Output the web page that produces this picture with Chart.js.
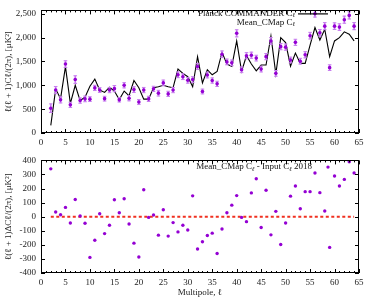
<!DOCTYPE html>
<html>
<head>
<meta charset="utf-8">
<script src="https://cdn.jsdelivr.net/npm/chart.js@4/dist/chart.umd.min.js"></script>
<style>
  html, body { margin: 0; padding: 0; background: #fff; }
  #wrap { position: relative; width: 375px; height: 300px; }
  .panel { position: absolute; left: 0; width: 375px; height: 150px; }
</style>
</head>
<body>
<div id="wrap">
  <div class="panel" style="top:0"><canvas id="clPlot"></canvas></div>
  <div class="panel" style="top:150px"><canvas id="diffPlot"></canvas></div>
</div>
<script>
const ells = [2, 3, 4, 5, 6, 7, 8, 9, 10, 11, 12, 13, 14, 15, 16, 17, 18, 19, 20, 21,
  22, 23, 24, 25, 26, 27, 28, 29, 30, 31, 32, 33, 34, 35, 36, 37, 38, 39, 40, 41,
  42, 43, 44, 45, 46, 47, 48, 49, 50, 51, 52, 53, 54, 55, 56, 57, 58, 59, 60, 61,
  62, 63, 64];

// Planck COMMANDER D_l
const planckCl = [160, 920, 720, 1390, 620, 1000, 680, 750, 980, 1130,
  900, 850, 960, 880, 700, 880, 780, 1100, 950, 710,
  710, 950, 970, 1000, 970, 950, 1340, 1250, 1180, 970,
  1600, 1050, 1325, 1220, 1290, 1690, 1445, 1395, 1930, 1290,
  1620, 1445, 1305, 1425, 1425, 2035, 1235, 2000, 1895, 1400,
  1675, 1460, 1460, 1840, 2210, 1950, 2175, 1600, 1930, 2000,
  2120, 2070, 1930];

// Mean CMap D_l and its error
const meanCl = [520, 900, 695, 1445, 590, 1120, 680, 715, 710, 945,
  900, 720, 900, 930, 695, 1000, 730, 910, 650, 900,
  715, 925, 835, 1050, 820, 900, 1220, 1180, 1105, 1120,
  1395, 870, 1215, 1100, 1030, 1650, 1490, 1470, 2090, 1325,
  1620, 1630, 1570, 1340, 1600, 1930, 1250, 1810, 1800, 1530,
  1900, 1505, 1640, 2040, 2500, 2100, 2240, 1370, 2240, 2220,
  2375, 2465, 2240];
const meanErr = [90, 75, 65, 70, 55, 80, 55, 60, 50, 55,
  50, 50, 55, 65, 45, 55, 55, 60, 50, 55,
  55, 55, 60, 60, 55, 55, 60, 60, 60, 60,
  65, 50, 60, 55, 55, 70, 60, 60, 75, 60,
  65, 65, 60, 60, 65, 70, 60, 65, 65, 60,
  65, 60, 65, 70, 70, 70, 75, 60, 70, 70,
  75, 75, 75];

// Mean CMap - input 2018
const diffCl = [340, 33, 14, 66, -45, 122, 5, -47, -289, -167,
  21, -120, -61, 120, 28, 127, -52, -188, -286, 192,
  -5, 12, -131, 49, -138, -42, -108, -61, -94, 148,
  -230, -178, -134, -117, -261, -87, 28, 82, 150, -5,
  -35, 169, 270, -77, 188, -129, 38, -197, -45, 146,
  218, 56, 178, 178, 310, 171, 40, -218, 289, 218,
  265, 390, 310];
const refLevel = 0;

const clTicks = [0, 500, 1000, 1500, 2000, 2500];
const diffTicks = [-400, -300, -200, -100, 0, 100, 200, 300, 400];
const xTicks = [0, 5, 10, 15, 20, 25, 30, 35, 40, 45, 50, 55, 60, 65];

const SERIF = "'Liberation Serif', 'DejaVu Serif', serif";
const PURPLE = '#9400d3';
const ERRCOL = '#c77dee';

Chart.defaults.font.family = SERIF;
Chart.defaults.font.size = 9;
Chart.defaults.color = '#222';
Chart.defaults.animation = false;

function drawParts(ctx, parts, right, y, size) {
  const fonts = parts.map(p => (p[1] === 'sub' ? 'italic ' + Math.round(size * 0.72) : size) + 'px ' + SERIF);
  let w = 0;
  parts.forEach((p, i) => { ctx.font = fonts[i]; w += ctx.measureText(p[0]).width; });
  let cx = right - w;
  parts.forEach((p, i) => {
    ctx.font = fonts[i];
    ctx.fillText(p[0], cx, y + (p[1] === 'sub' ? 2 : 0));
    cx += ctx.measureText(p[0]).width;
  });
}

// gnuplot-like frame: box, inward ticks on all sides, key inside the plot
const framePlugin = {
  id: 'frame',
  afterDatasetsDraw(chart, args, opts) {
    const { ctx, chartArea: a, scales: { x, y } } = chart;
    ctx.save();
    ctx.strokeStyle = '#000';
    ctx.lineWidth = 1;
    ctx.beginPath();
    for (let v = x.min; v <= x.max; v++) {
      const px = Math.round(x.getPixelForValue(v)) + 0.5;
      const len = v % 5 === 0 ? 4 : 2;
      ctx.moveTo(px, a.bottom); ctx.lineTo(px, a.bottom - len);
      ctx.moveTo(px, a.top); ctx.lineTo(px, a.top + len);
    }
    y.ticks.forEach(t => {
      const py = Math.round(y.getPixelForValue(t.value)) + 0.5;
      ctx.moveTo(a.left, py); ctx.lineTo(a.left + 4, py);
      ctx.moveTo(a.right, py); ctx.lineTo(a.right - 4, py);
    });
    ctx.stroke();
    ctx.strokeRect(Math.round(a.left) + 0.5, Math.round(a.top) + 0.5,
      Math.round(a.width) - 1, Math.round(a.height) - 1);

    ctx.fillStyle = '#111';
    ctx.textBaseline = 'middle';
    (opts.items || []).forEach(it => {
      const ty = a.top + it.dy;
      const tx = a.right - opts.right;
      drawParts(ctx, it.parts, tx, ty, 9);
      if (it.sample === 'line') {
        ctx.strokeStyle = '#000';
        ctx.lineWidth = 1.2;
        ctx.beginPath();
        ctx.moveTo(tx + 3, ty); ctx.lineTo(tx + 33, ty);
        ctx.stroke();
      } else if (it.sample === 'point') {
        ctx.fillStyle = PURPLE;
        ctx.beginPath();
        ctx.arc(tx + 16, ty, 1.7, 0, Math.PI * 2);
        ctx.fill();
        ctx.fillStyle = '#111';
      }
    });
    ctx.restore();
  }
};

function xScale(height, withTitle) {
  return {
    type: 'linear',
    min: 0,
    max: 65,
    offset: false,
    grid: { display: false, drawTicks: false },
    border: { display: false },
    ticks: { maxRotation: 0, autoSkip: false, padding: 4 },
    afterBuildTicks(s) { s.ticks = xTicks.map(v => ({ value: v })); },
    title: { display: withTitle, text: 'Multipole, ℓ', padding: { top: 0, bottom: 2 }, font: { size: 9 } },
    afterFit(s) { s.height = height; }
  };
}

function yScale(min, max, tickVals, title) {
  return {
    type: 'linear',
    min: min,
    max: max,
    grid: { display: false, drawTicks: false },
    border: { display: false },
    ticks: { padding: 5, autoSkip: false },
    afterBuildTicks(s) { s.ticks = tickVals.map(v => ({ value: v })); },
    title: { display: true, text: title, padding: { top: 3, bottom: 0 }, font: { size: 9 } },
    afterFit(s) { s.width = 41; }
  };
}

new Chart(document.getElementById('clPlot'), {
  type: 'scatter',
  data: {
    datasets: [
      {
        label: 'Mean_CMap',
        data: ells.map((l, i) => ({ x: l, y: meanCl[i] })),
        pointStyle: 'circle',
        pointRadius: 1.8,
        backgroundColor: PURPLE,
        borderWidth: 0,
        order: 0
      },
      {
        label: 'caps',
        data: ells.flatMap((l, i) => [{ x: l, y: meanCl[i] - meanErr[i] }, { x: l, y: meanCl[i] + meanErr[i] }]),
        pointStyle: 'line',
        pointRadius: 1.8,
        borderColor: ERRCOL,
        borderWidth: 1,
        order: 1
      },
      {
        type: 'bar',
        label: 'err',
        data: ells.map((l, i) => ({ x: l, y: [meanCl[i] - meanErr[i], meanCl[i] + meanErr[i]] })),
        backgroundColor: ERRCOL,
        borderWidth: 0,
        barThickness: 1,
        order: 2
      },
      {
        type: 'line',
        label: 'Planck COMMANDER',
        data: ells.map((l, i) => ({ x: l, y: planckCl[i] })),
        borderColor: '#000',
        borderWidth: 1.1,
        pointRadius: 0,
        tension: 0,
        order: 3
      }
    ]
  },
  options: {
    responsive: true,
    maintainAspectRatio: false,
    layout: { padding: { top: 9, right: 16, left: 0, bottom: 0 } },
    scales: {
      x: xScale(17, false),
      y: yScale(0, 2570, clTicks, 'ℓ(ℓ + 1)Cℓ/(2π), [μK²]')
    },
    plugins: {
      legend: { display: false },
      tooltip: { enabled: false },
      frame: {
        right: 64,
        items: [
          { parts: [['Planck COMMANDER C', ''], ['ℓ', 'sub']], dy: 3.5, sample: 'line' },
          { parts: [['Mean_CMap C', ''], ['ℓ', 'sub']], dy: 11.8, sample: null }
        ]
      }
    }
  },
  plugins: [framePlugin]
});

new Chart(document.getElementById('diffPlot'), {
  type: 'scatter',
  data: {
    datasets: [
      {
        label: 'Mean_CMap - Input',
        data: ells.map((l, i) => ({ x: l, y: diffCl[i] })),
        pointStyle: 'circle',
        pointRadius: 1.7,
        backgroundColor: PURPLE,
        borderWidth: 0,
        order: 0
      },
      {
        type: 'line',
        label: 'zero',
        data: [{ x: ells[0], y: refLevel }, { x: ells[ells.length - 1], y: refLevel }],
        borderColor: '#f03020',
        borderWidth: 2,
        borderDash: [3, 2.5],
        pointRadius: 0,
        order: 1
      }
    ]
  },
  options: {
    responsive: true,
    maintainAspectRatio: false,
    layout: { padding: { top: 9, right: 16, left: 0, bottom: 0 } },
    scales: {
      x: xScale(27, true),
      y: yScale(-400, 400, diffTicks, 'ℓ(ℓ + 1)ΔCℓ/(2π), [μK²]')
    },
    plugins: {
      legend: { display: false },
      tooltip: { enabled: false },
      frame: {
        right: 47,
        items: [
          { parts: [['Mean_CMap C', ''], ['ℓ', 'sub'], [' - Input C', ''], ['ℓ', 'sub'], [' 2018', '']], dy: 6.7, sample: 'point' }
        ]
      }
    }
  },
  plugins: [framePlugin]
});
</script>
</body>
</html>
